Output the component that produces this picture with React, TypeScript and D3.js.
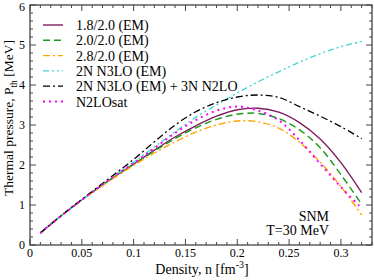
import { useEffect, useRef } from 'react';
import * as d3 from 'd3';

// density grid [fm^-3]
const density = [0.01, 0.02, 0.04, 0.06, 0.08, 0.10, 0.12, 0.14, 0.16, 0.18, 0.20, 0.22, 0.24, 0.26, 0.28, 0.30, 0.32];

// thermal pressure [MeV]
const p18 = [0.30, 0.52, 0.93, 1.32, 1.68, 2.02, 2.37, 2.70, 2.98, 3.22, 3.38, 3.42, 3.32, 3.06, 2.65, 2.06, 1.31];
const p20 = [0.30, 0.52, 0.93, 1.32, 1.68, 2.02, 2.35, 2.66, 2.93, 3.14, 3.27, 3.29, 3.16, 2.88, 2.43, 1.76, 1.02];
const p28 = [0.30, 0.52, 0.93, 1.31, 1.66, 1.99, 2.30, 2.58, 2.82, 3.00, 3.10, 3.08, 2.92, 2.57, 2.07, 1.46, 0.75];
const pN3LO = [0.30, 0.52, 0.93, 1.33, 1.71, 2.07, 2.45, 2.83, 3.19, 3.50, 3.80, 4.08, 4.33, 4.57, 4.78, 4.96, 5.09];
const pN3LO3N = [0.30, 0.52, 0.94, 1.34, 1.74, 2.14, 2.58, 3.00, 3.33, 3.56, 3.70, 3.75, 3.69, 3.46, 3.22, 2.96, 2.66];
const pSat = [0.30, 0.52, 0.93, 1.32, 1.70, 2.05, 2.42, 2.80, 3.12, 3.36, 3.46, 3.36, 3.12, 2.62, 2.03, 1.45, 0.92];

const labels = ['1.8/2.0 (EM)', '2.0/2.0 (EM)', '2.8/2.0 (EM)', '2N N3LO (EM)', '2N N3LO (EM) + 3N N2LO', 'N2LOsat'];
const xTicks = [0, 0.05, 0.1, 0.15, 0.2, 0.25, 0.3];
const yTicks = [0, 1, 2, 3, 4, 5, 6];

const series = [
  { label: labels[0], values: p18, color: '#7b1e5e', dash: null, width: 1.4 },
  { label: labels[1], values: p20, color: '#1a9a1a', dash: '7,4', width: 1.4 },
  { label: labels[2], values: p28, color: '#ffa500', dash: '7,3,2,3', width: 1.4 },
  { label: labels[3], values: pN3LO, color: '#40d8d0', dash: '6,3,2,3,2,3', width: 1.4 },
  { label: labels[4], values: pN3LO3N, color: '#000000', dash: '7,3,2,3', width: 1.3 },
  { label: labels[5], values: pSat, color: '#ff00ff', dash: '2,4', width: 2 },
];

export default function App() {
  const svgRef = useRef<SVGSVGElement>(null);

  useEffect(() => {
    if (!svgRef.current) return;
    const W = 374;
    const H = 280;
    const m = { top: 5, right: 2, bottom: 35, left: 30 };
    const width = W - m.left - m.right;
    const height = H - m.top - m.bottom;
    const font = '"Liberation Serif", "Times New Roman", serif';

    d3.select(svgRef.current).selectAll('*').remove();
    const svg = d3.select(svgRef.current).attr('width', W).attr('height', H);
    const g = svg.append('g').attr('transform', `translate(${m.left},${m.top})`);

    const x = d3.scaleLinear().domain([0, 0.33]).range([0, width]);
    const y = d3.scaleLinear().domain([0, 6]).range([height, 0]);

    // 刻度（向内，四边）
    const axisColor = '#444';
    const xMinor = d3.range(0, 0.331, 0.01).map(v => +v.toFixed(2));
    const yMinor = d3.range(0, 6.01, 0.2).map(v => +v.toFixed(1));

    xMinor.forEach(v => {
      const major = Math.abs(v / 0.05 - Math.round(v / 0.05)) < 1e-6;
      const len = major ? 6 : 3;
      g.append('line').attr('x1', x(v)).attr('x2', x(v)).attr('y1', height).attr('y2', height - len)
        .attr('stroke', axisColor).attr('stroke-width', 1);
      g.append('line').attr('x1', x(v)).attr('x2', x(v)).attr('y1', 0).attr('y2', len)
        .attr('stroke', axisColor).attr('stroke-width', 1);
    });
    yMinor.forEach(v => {
      const major = Math.abs(v - Math.round(v)) < 1e-6;
      const len = major ? 6 : 3;
      g.append('line').attr('x1', 0).attr('x2', len).attr('y1', y(v)).attr('y2', y(v))
        .attr('stroke', axisColor).attr('stroke-width', 1);
      g.append('line').attr('x1', width).attr('x2', width - len).attr('y1', y(v)).attr('y2', y(v))
        .attr('stroke', axisColor).attr('stroke-width', 1);
    });

    g.append('rect').attr('width', width).attr('height', height)
      .attr('fill', 'none').attr('stroke', axisColor).attr('stroke-width', 1.3);

    g.selectAll('.xt').data(xTicks).enter().append('text')
      .attr('x', d => x(d)).attr('y', height + 12)
      .attr('text-anchor', 'middle').attr('font-family', font).attr('font-size', 12)
      .text(d => (d === 0 ? '0' : String(d)));

    g.selectAll('.yt').data(yTicks).enter().append('text')
      .attr('x', -5).attr('y', d => y(d) + (d === 6 ? 6 : 4))
      .attr('text-anchor', 'end').attr('font-family', font).attr('font-size', 12)
      .text(d => String(d));

    // 轴标题
    const xt = svg.append('text').attr('x', 202).attr('y', 274)
      .attr('text-anchor', 'middle').attr('font-family', font).attr('font-size', 14);
    xt.append('tspan').text('Density, n [fm');
    xt.append('tspan').attr('dy', -6).attr('font-size', 10).text('-3');
    xt.append('tspan').attr('dy', 6).text(']');

    const yt = svg.append('text').attr('transform', `translate(13,118) rotate(-90)`)
      .attr('text-anchor', 'middle').attr('font-family', font).attr('font-size', 13.5);
    yt.append('tspan').text('Thermal pressure, P');
    yt.append('tspan').attr('dy', 4).attr('font-size', 9.5).text('th');
    yt.append('tspan').attr('dy', -4).text(' [MeV]');

    // 曲线
    const line = d3.line<number>()
      .x((_, i) => x(density[i]))
      .y(d => y(d))
      .curve(d3.curveCatmullRom.alpha(0.5));

    series.forEach(s => {
      g.append('path').datum(s.values)
        .attr('fill', 'none').attr('stroke', s.color).attr('stroke-width', s.width)
        .attr('stroke-dasharray', s.dash ?? null)
        .attr('d', line);
    });

    // 图例
    series.forEach((s, i) => {
      const ly = 20 + i * 15.3;
      g.append('line').attr('x1', 13).attr('x2', 33).attr('y1', ly).attr('y2', ly)
        .attr('stroke', s.color).attr('stroke-width', s.width)
        .attr('stroke-dasharray', s.dash ?? null);
      g.append('text').attr('x', 46).attr('y', ly + 5)
        .attr('font-family', font).attr('font-size', 14).text(s.label);
    });

    // 注释
    g.append('text').attr('x', 299).attr('y', 216).attr('text-anchor', 'end')
      .attr('font-family', font).attr('font-size', 14).text('SNM');
    g.append('text').attr('x', 299).attr('y', 230).attr('text-anchor', 'end')
      .attr('font-family', font).attr('font-size', 14).text('T=30 MeV');
  }, []);

  return (
    <div style={{ position: 'fixed', left: 0, top: 0, background: '#fff' }}>
      <svg ref={svgRef} style={{ display: 'block' }} />
    </div>
  );
}
